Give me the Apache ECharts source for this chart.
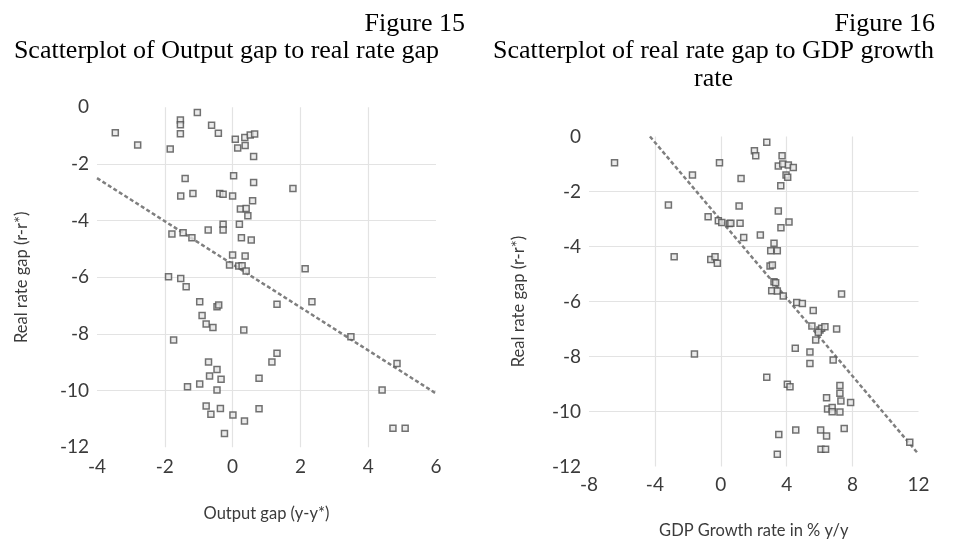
<!DOCTYPE html>
<html>
<head>
<meta charset="utf-8">
<title>Figure 15 / Figure 16</title>
<script src="https://cdn.jsdelivr.net/npm/echarts@6/dist/echarts.min.js"></script>
<style>
  html, body { margin: 0; padding: 0; background: #fff; }
  #chart { width: 956px; height: 541px; }
</style>
</head>
<body>
<div id="chart"></div>
<script>
// Figure 15: output gap (x) vs real rate gap (y)
const outputGapPoints = [
  [-3.46,-0.90], [-2.80,-1.33], [-1.84,-1.47], [-1.54,-0.45], [-1.54,-0.62], [-1.54,-0.93],
  [-1.04,-0.18], [-0.62,-0.63], [-0.42,-0.92], [0.08,-1.13], [0.36,-1.07], [0.15,-1.44],
  [0.37,-1.35], [0.52,-0.98], [0.65,-0.94], [0.62,-1.74], [0.03,-2.42], [0.62,-2.65],
  [1.78,-2.87], [-1.40,-2.51], [-1.53,-3.13], [-1.17,-3.04], [-0.38,-3.04], [-0.28,-3.07],
  [0.00,-3.13], [0.59,-3.30], [0.23,-3.59], [0.40,-3.57], [0.45,-3.83], [-0.28,-4.13],
  [-0.28,-4.33], [-0.72,-4.33], [0.20,-4.13], [0.26,-4.60], [0.55,-4.68], [-1.79,-4.47],
  [-1.46,-4.43], [-1.20,-4.60], [0.00,-5.21], [0.37,-5.25], [-0.09,-5.57], [0.18,-5.60],
  [0.28,-5.59], [0.40,-5.78], [2.14,-5.70], [-1.89,-5.98], [-1.53,-6.04], [-1.37,-6.33],
  [-0.97,-6.86], [-0.46,-7.04], [-0.41,-6.98], [1.31,-6.95], [2.34,-6.86], [-0.90,-7.35],
  [-0.78,-7.65], [-0.58,-7.77], [0.33,-7.86], [-1.74,-8.21], [-0.71,-8.99], [-0.46,-9.25],
  [-0.68,-9.48], [-0.34,-9.60], [-0.97,-9.77], [-1.33,-9.86], [-0.46,-9.98], [-0.78,-10.54],
  [-0.64,-10.83], [-0.36,-10.63], [0.01,-10.86], [0.35,-11.07], [-0.24,-11.51], [1.31,-8.68],
  [1.16,-8.99], [0.78,-9.56], [0.78,-10.64], [3.49,-8.10], [4.85,-9.04], [4.41,-9.98],
  [4.73,-11.33], [5.09,-11.33]
];
const outputGapTrend = [[-4, -2.5], [6, -10.1]];

// Figure 16: GDP growth (x) vs real rate gap (y)
const gdpGrowthPoints = [
  [-6.45,-0.95], [-1.72,-1.40], [-3.18,-2.49], [-0.08,-0.95], [-0.77,-2.92], [-0.15,-3.06],
  [0.06,-3.13], [0.52,-3.16], [-2.83,-4.37], [-0.61,-4.47], [-0.35,-4.37], [-0.21,-4.61],
  [2.79,-0.21], [2.04,-0.52], [2.12,-0.70], [3.72,-0.70], [3.49,-1.07], [3.76,-1.00],
  [4.10,-1.04], [4.40,-1.13], [3.96,-1.40], [4.06,-1.48], [1.23,-1.53], [3.64,-1.79],
  [1.11,-2.53], [3.49,-2.71], [0.61,-3.15], [1.17,-3.15], [4.14,-3.11], [3.65,-3.32],
  [1.39,-3.67], [2.40,-3.58], [3.23,-3.88], [3.03,-4.15], [3.43,-4.15], [2.99,-4.71],
  [3.13,-4.67], [3.23,-5.28], [3.33,-5.32], [3.09,-5.61], [3.43,-5.62], [3.79,-5.80],
  [4.61,-6.04], [4.95,-6.07], [5.61,-6.33], [7.33,-5.73], [5.53,-6.89], [6.02,-7.04],
  [6.12,-6.97], [6.32,-6.92], [5.92,-7.12], [7.03,-7.00], [5.76,-7.40], [4.52,-7.70],
  [5.41,-7.84], [5.41,-8.25], [6.82,-8.13], [2.79,-8.75], [4.04,-9.01], [4.20,-9.10],
  [7.23,-9.05], [7.23,-9.34], [6.42,-9.50], [7.29,-9.62], [7.88,-9.67], [6.48,-9.91],
  [6.76,-9.85], [6.76,-10.01], [7.23,-10.02], [4.55,-10.67], [3.52,-10.84], [6.06,-10.67],
  [6.42,-10.89], [7.49,-10.62], [6.08,-11.37], [6.36,-11.37], [3.43,-11.55], [11.47,-11.12],
  [-1.60,-7.91]
];
const gdpGrowthTrend = [[-4.3, 0], [12, -11.55]];

const titles = {
  left: ['Figure 15', 'Scatterplot of Output gap to real rate gap'],
  right: ['Figure 16', 'Scatterplot of real rate gap to GDP growth', 'rate']
};
const xNames = ['Output gap (y-y*)', 'GDP Growth rate in % y/y'];
const yName = 'Real rate gap (r-r*)';

const chart = echarts.init(document.getElementById('chart'));

const labelFont = 'Lato, "Open Sans", sans-serif';
const serif = '"Liberation Serif", "DejaVu Serif", serif';
const textGray = '#3b3b3b';

function valueAxis(gridIndex, min, max, interval, name, nameGap, rotate, margin) {
  return {
    type: 'value', gridIndex, min, max, interval,
    name, nameLocation: 'middle', nameGap, nameRotate: rotate,
    nameTextStyle: { fontFamily: labelFont, fontSize: 16.5, color: textGray },
    axisLine: { show: false },
    axisTick: { show: false },
    axisLabel: { fontFamily: labelFont, fontSize: 19, color: textGray, margin },
    splitLine: { show: true, showMinLine: false, showMaxLine: false,
      lineStyle: { color: '#e3e3e3', width: 1.2 } }
  };
}

const scatterStyle = {
  symbol: 'rect', symbolSize: 6,
  itemStyle: { color: '#e6e6e6', borderColor: '#505050', borderWidth: 1.5 }
};
const trendStyle = {
  type: 'line', symbol: 'none', silent: true,
  lineStyle: { color: '#7f7f7f', width: 2.5, type: [4, 2.5] }
};

chart.setOption({
  animation: false,
  grid: [
    { left: 97, right: 520, top: 107.3, bottom: 93.7, outerBoundsMode: 'none' },
    { left: 589, right: 37.5, top: 136.5, bottom: 74.5, outerBoundsMode: 'none' }
  ],
  xAxis: [
    valueAxis(0, -4, 6, 2, xNames[0], 58, 0, 10),
    valueAxis(1, -8, 12, 4, xNames[1], 56, 0, 9)
  ],
  yAxis: [
    valueAxis(0, -12, 0, 2, yName, 67, 90, 8),
    valueAxis(1, -12, 0, 2, yName, 62, 90, 8)
  ],
  series: [
    Object.assign({ type: 'scatter', xAxisIndex: 0, yAxisIndex: 0, data: outputGapPoints }, scatterStyle),
    Object.assign({ xAxisIndex: 0, yAxisIndex: 0, data: outputGapTrend, z: 1 }, trendStyle),
    Object.assign({ type: 'scatter', xAxisIndex: 1, yAxisIndex: 1, data: gdpGrowthPoints }, scatterStyle),
    Object.assign({ xAxisIndex: 1, yAxisIndex: 1, data: gdpGrowthTrend, z: 1 }, trendStyle)
  ],
  graphic: [
    { type: 'text', x: 465, y: 24, style: { text: titles.left[0], font: '26px ' + serif, fill: '#000', textAlign: 'right', textVerticalAlign: 'middle' } },
    { type: 'text', x: 226.5, y: 51.5, style: { text: titles.left[1], font: '26px ' + serif, fill: '#000', textAlign: 'center', textVerticalAlign: 'middle' } },
    { type: 'text', x: 935, y: 24, style: { text: titles.right[0], font: '26px ' + serif, fill: '#000', textAlign: 'right', textVerticalAlign: 'middle' } },
    { type: 'text', x: 713.5, y: 51.5, style: { text: titles.right[1], font: '26px ' + serif, fill: '#000', textAlign: 'center', textVerticalAlign: 'middle' } },
    { type: 'text', x: 713.5, y: 79, style: { text: titles.right[2], font: '26px ' + serif, fill: '#000', textAlign: 'center', textVerticalAlign: 'middle' } }
  ]
});
</script>
</body>
</html>
